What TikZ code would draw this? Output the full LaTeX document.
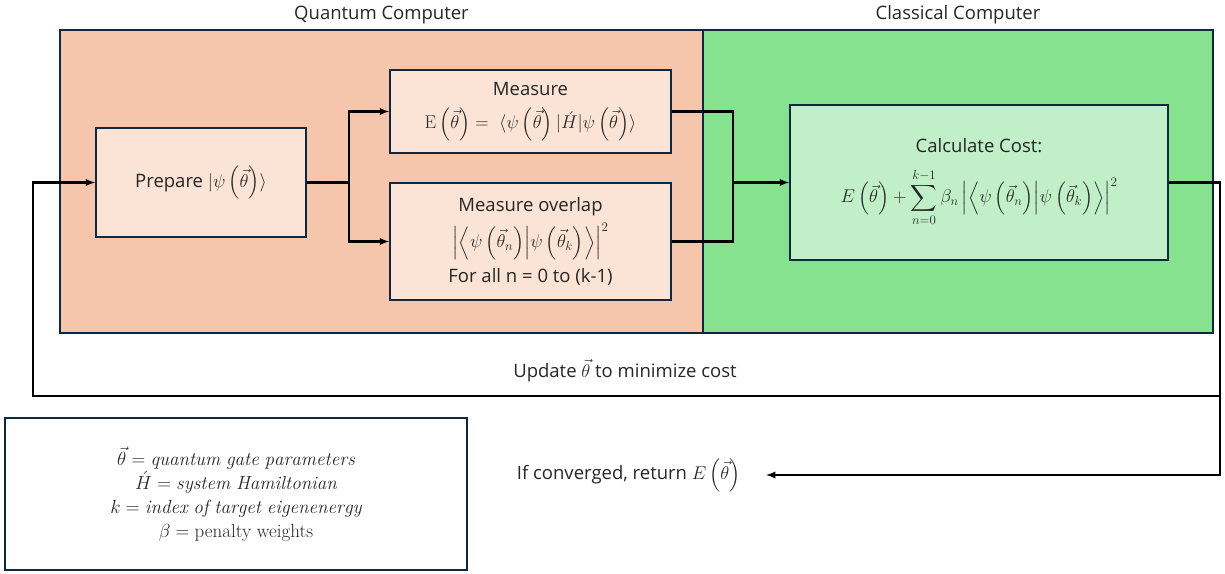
\RequirePackage{fix-cm}
\documentclass[tikz,border=0pt]{standalone}
\usepackage{amsmath, amssymb}
\usepackage{fontspec}
\setsansfont{Open Sans}
\usepackage{tikz}
\usetikzlibrary{arrows}
\usetikzlibrary{positioning}

\definecolor{qregion}{HTML}{F5C6AC}
\definecolor{qinner}{HTML}{FBE3D6}
\definecolor{cregion}{HTML}{86E28F}
\definecolor{cinner}{HTML}{C1F0C8}
\definecolor{boxline}{HTML}{0E2841}
\definecolor{txt}{HTML}{262626}

\begin{document}
\begin{tikzpicture}
	[
	x=1pt, y=-1pt,
  > = latex,
  every node/.style = {font=\sffamily\fontsize{18.5}{21}\selectfont, text=txt},
  region/.style = {draw=boxline, line width=1.1pt, inner sep=0pt},
  qbox/.style = {draw=boxline, line width=1.5pt, fill=qinner, align=center},
  cbox/.style = {draw=boxline, line width=1.5pt, fill=cinner, align=center},
  flow/.style = {line width=2.2pt, line join=miter}
  ]
	\useasboundingbox (0,0) rectangle (1225,573);

	% the two computers
	\node[region, fill=qregion, minimum width=643pt, minimum height=303pt] (quantum) at (381.5,181.5) {};
	\node[region, fill=cregion, minimum width=510pt, minimum height=303pt] (classical) at (958,181.5) {};
	\node[above=2pt of quantum] (qtitle) {Quantum Computer};
	\node[above=2pt of classical] (ctitle) {Classical Computer};

	% steps
	\node[qbox, minimum width=210pt, minimum height=109pt] (prep) at (201,182.5)
		{Prepare $|\psi\left(\vec{\theta}\right)\rangle$};
	\node[qbox, minimum width=281pt, minimum height=83pt] (meas) at (530.5,111.5)
		{Measure\\[11pt]
		$\mathrm{E}\left(\vec{\theta}\right) = \;\langle\psi\left(\vec{\theta}\right)|\acute{H}|\psi\left(\vec{\theta}\right)\rangle$};
	\node[qbox, minimum width=281pt, minimum height=117pt] (ovl) at (530.5,241.5)
		{Measure overlap\\[6pt]
		$\left|\left\langle\psi\left(\vec{\theta}_n\right)\middle|\psi\left(\vec{\theta}_k\right)\right\rangle\right|^2$\\[8pt]
		For all n = 0 to (k-1)};
	\node[cbox, minimum width=378pt, minimum height=155pt] (cost) at (979,182.5)
		{Calculate Cost:\\[15pt]
		$\displaystyle E\left(\vec{\theta}\right) + \sum_{n=0}^{k-1}\beta_n \left|\left\langle\psi\left(\vec{\theta}_n\right)\middle|\psi\left(\vec{\theta}_k\right)\right\rangle\right|^2$};

	% legend
	\node[draw=boxline, line width=1.5pt, fill=white, align=center,
		minimum width=462pt, minimum height=152pt, font=\rmfamily\fontsize{19}{24}\selectfont] (legend) at (236,494)
		{$\vec{\theta} = \mathit{quantum\ gate\ parameters}$\\
		$\acute{H} = \mathit{system\ Hamiltonian}$\\
		$k = \mathit{index\ of\ target\ eigenenergy}$\\
		$\beta = \text{penalty weights}$};

	\coordinate (split) at (349,182.5);
	\coordinate (merge) at (733,182.5);
	\coordinate (rb) at (1220,396);
	\coordinate (loopl) at (33,396);
	\coordinate (retend) at (766,475);

	\node (update) at (625,371) {Update $\vec{\theta}$ to minimize cost};
	\node[left=22pt of retend] (conv) {If converged, return $E\left(\vec{\theta}\right)$};

	\draw[flow] (prep.east) -- (split);
	\draw[flow,->] (split) |- (meas.west);
	\draw[flow,->] (split) |- (ovl.west);
	\draw[flow] (meas.east) -| (merge);
	\draw[flow] (ovl.east) -| (merge);
	\draw[flow,->] (merge) -- (cost.west);
	\draw[flow,->] (cost.east) -| (rb) -- (loopl) |- (prep.west);
	\draw[flow,->] (rb) |- (retend);

\end{tikzpicture}
\end{document}
